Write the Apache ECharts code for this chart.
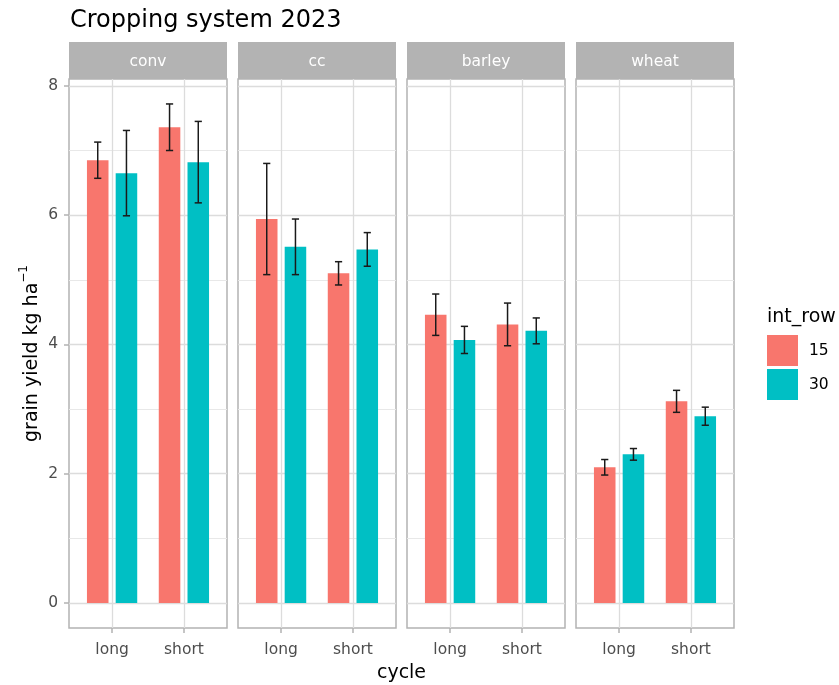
<!DOCTYPE html>
<html>
<head>
<meta charset="utf-8">
<script src="https://cdn.jsdelivr.net/npm/echarts@6/dist/echarts.min.js"></script>
<style>
  html, body { margin: 0; padding: 0; background: #ffffff; }
  #chart { width: 839px; height: 685px; }
</style>
</head>
<body>
<div id="chart"></div>
<script>
// Facets, x categories and fill groups
const facets = ['conv', 'cc', 'barley', 'wheat'];
const cycles = ['long', 'short'];
const rowSpacings = ['15', '30'];

// Mean grain yield, ordered: conv long, conv short, cc long, cc short, barley long, barley short, wheat long, wheat short
const yield15 = [6.85, 7.36, 5.94, 5.10, 4.46, 4.31, 2.10, 3.12];
const yield30 = [6.65, 6.82, 5.51, 5.47, 4.07, 4.21, 2.30, 2.89];
// Half-widths of the error bars, same order
const err15 = [0.28, 0.36, 0.86, 0.18, 0.32, 0.33, 0.12, 0.17];
const err30 = [0.66, 0.63, 0.43, 0.26, 0.21, 0.20, 0.09, 0.14];

const yTicks = [0, 2, 4, 6, 8];

// ---- styling / layout ----
const FONT = '"DejaVu Sans", sans-serif';
const COLORS = { '15': '#F8766D', '30': '#00BFC4' };
const GRID_MAJOR = '#DCDCDC';
const GRID_MINOR = '#E8E8E8';
const BORDER = '#B3B3B3';
const AXIS_TEXT = '#4D4D4D';

const panelLeft0 = 69, panelStep = 169, panelWidth = 158;
const panelTop = 79, panelHeight = 549;
const stripTop = 42, stripHeight = 37;

// Discrete x scale split into 12 slots of 0.2 units (range 0.4 .. 2.6);
// each cycle sits on slot 3 + 5k, the dodged bars one slot either side.
const nSlots = 12;
const slotOf = k => 3 + 5 * k;
const slotLabels = Array.from({ length: nSlots }, (_, i) => {
  const k = cycles.findIndex((_, j) => slotOf(j) === i);
  return k >= 0 ? cycles[k] : '';
});
const slotNames = slotLabels.map((lab, i) => lab || ('s' + i));
const isCycleSlot = idx => slotLabels[idx] !== '';

// y range with 5% expansion like the usual continuous scale
const uppers = yield15.map((v, i) => v + err15[i]).concat(yield30.map((v, i) => v + err30[i]));
const yTop = Math.max(0, ...uppers);
const yMinVal = -0.05 * yTop;
const yMaxVal = yTop * 1.05;

function renderErrorBar(params, api) {
  const x = api.value(0);
  const lo = api.coord([x, api.value(1)]);
  const hi = api.coord([x, api.value(2)]);
  const half = 3.6;
  const style = { stroke: '#1A1A1A', lineWidth: 1.5 };
  return {
    type: 'group',
    children: [
      { type: 'line', shape: { x1: lo[0], y1: lo[1], x2: hi[0], y2: hi[1] }, style },
      { type: 'line', shape: { x1: lo[0] - half, y1: lo[1], x2: lo[0] + half, y2: lo[1] }, style },
      { type: 'line', shape: { x1: hi[0] - half, y1: hi[1], x2: hi[0] + half, y2: hi[1] }, style }
    ]
  };
}

const grids = [], xAxes = [], yAxes = [], series = [], graphics = [];

facets.forEach((facet, f) => {
  const left = panelLeft0 + f * panelStep;
  grids.push({
    left: left, top: panelTop, width: panelWidth, height: panelHeight,
    show: true, borderColor: BORDER, borderWidth: 1.5, backgroundColor: 'transparent'
  });
  xAxes.push({
    type: 'category', gridIndex: f, data: slotNames, boundaryGap: false, position: 'bottom',
    axisLine: { show: false, onZero: false },
    axisTick: { show: true, interval: isCycleSlot, length: 5, lineStyle: { color: BORDER, width: 1.5 } },
    axisLabel: {
      show: true, interval: isCycleSlot, margin: 14,
      formatter: (v, idx) => slotLabels[idx],
      fontFamily: FONT, fontSize: 15.5, color: AXIS_TEXT
    },
    splitLine: { show: true, interval: isCycleSlot, lineStyle: { color: GRID_MAJOR, width: 1.3 } }
  });
  yAxes.push({
    type: 'value', gridIndex: f, min: yMinVal, max: yMaxVal, position: 'left',
    axisLine: { show: false, onZero: false },
    axisTick: { show: f === 0, customValues: yTicks, length: 5, lineStyle: { color: BORDER, width: 1.5 } },
    axisLabel: {
      show: f === 0, customValues: yTicks, margin: 11,
      fontFamily: FONT, fontSize: 15.5, color: AXIS_TEXT
    },
    splitLine: { show: true, lineStyle: { color: GRID_MAJOR, width: 1.3 } },
    minorTick: { show: false, splitNumber: 2 },
    minorSplitLine: { show: true, lineStyle: { color: GRID_MINOR, width: 1 } }
  });

  const d15 = new Array(nSlots).fill(null);
  const d30 = new Array(nSlots).fill(null);
  const errData = [];
  cycles.forEach((c, k) => {
    const i = 2 * f + k;
    d15[slotOf(k) - 1] = yield15[i];
    d30[slotOf(k) + 1] = yield30[i];
    errData.push([slotOf(k) - 1, yield15[i] - err15[i], yield15[i] + err15[i]]);
    errData.push([slotOf(k) + 1, yield30[i] - err30[i], yield30[i] + err30[i]]);
  });

  [[rowSpacings[0], d15], [rowSpacings[1], d30]].forEach(([name, data]) => {
    series.push({
      type: 'bar', name: name, xAxisIndex: f, yAxisIndex: f, data: data,
      barWidth: '150%', barGap: '-100%',
      itemStyle: { color: COLORS[name], borderWidth: 0 },
      emphasis: { disabled: true }, z: 2
    });
  });
  series.push({
    type: 'custom', xAxisIndex: f, yAxisIndex: f, data: errData,
    encode: { x: 0, y: [1, 2] }, renderItem: renderErrorBar, z: 3, silent: true
  });

  // facet strip
  graphics.push({
    type: 'rect', silent: true,
    shape: { x: left, y: stripTop, width: panelWidth, height: stripHeight },
    style: { fill: '#B3B3B3' }
  });
  graphics.push({
    type: 'text', silent: true, x: left + panelWidth / 2, y: stripTop + stripHeight / 2 + 1.5,
    style: {
      text: facet, font: '15.5px ' + FONT, fill: '#FFFFFF',
      align: 'center', verticalAlign: 'middle', textAlign: 'center', textVerticalAlign: 'middle'
    }
  });
});

const panelsRight = panelLeft0 + (facets.length - 1) * panelStep + panelWidth;

// plot title
graphics.push({
  type: 'text', silent: true, x: 70, y: 21,
  style: {
    text: 'Cropping system 2023', font: '24px ' + FONT, fill: '#000000',
    align: 'left', verticalAlign: 'middle', textAlign: 'left', textVerticalAlign: 'middle'
  }
});
// x axis title
graphics.push({
  type: 'text', silent: true, x: (panelLeft0 + panelsRight) / 2, y: 673,
  style: {
    text: 'cycle', font: '19px ' + FONT, fill: '#000000',
    align: 'center', verticalAlign: 'middle', textAlign: 'center', textVerticalAlign: 'middle'
  }
});
// y axis title with superscript
graphics.push({
  type: 'text', silent: true, x: 30, y: panelTop + panelHeight / 2, rotation: Math.PI / 2,
  style: {
    text: '{m|grain yield kg ha}{s|\u22121}',
    align: 'center', verticalAlign: 'middle', textAlign: 'center', textVerticalAlign: 'middle',
    rich: {
      m: { font: '19px ' + FONT, fill: '#000000', lineHeight: 24, verticalAlign: 'bottom' },
      s: { font: '12px ' + FONT, fill: '#000000', lineHeight: 12, verticalAlign: 'top' }
    }
  }
});
// legend title
graphics.push({
  type: 'text', silent: true, x: 767, y: 317,
  style: {
    text: 'int_row', font: '19px ' + FONT, fill: '#000000',
    align: 'left', verticalAlign: 'middle', textAlign: 'left', textVerticalAlign: 'middle'
  }
});

const chart = echarts.init(document.getElementById('chart'), null, { renderer: 'canvas' });
chart.setOption({
  animation: false,
  backgroundColor: '#FFFFFF',
  textStyle: { fontFamily: FONT },
  grid: grids,
  xAxis: xAxes,
  yAxis: yAxes,
  legend: {
    orient: 'vertical', left: 767, top: 335, padding: 0,
    itemWidth: 31, itemHeight: 31, itemGap: 3, icon: 'rect',
    data: rowSpacings, selectedMode: false,
    textStyle: { fontFamily: FONT, fontSize: 15.5, color: '#000000', padding: [10, 0, 0, 6] }
  },
  series: series,
  graphic: graphics
});
</script>
</body>
</html>
